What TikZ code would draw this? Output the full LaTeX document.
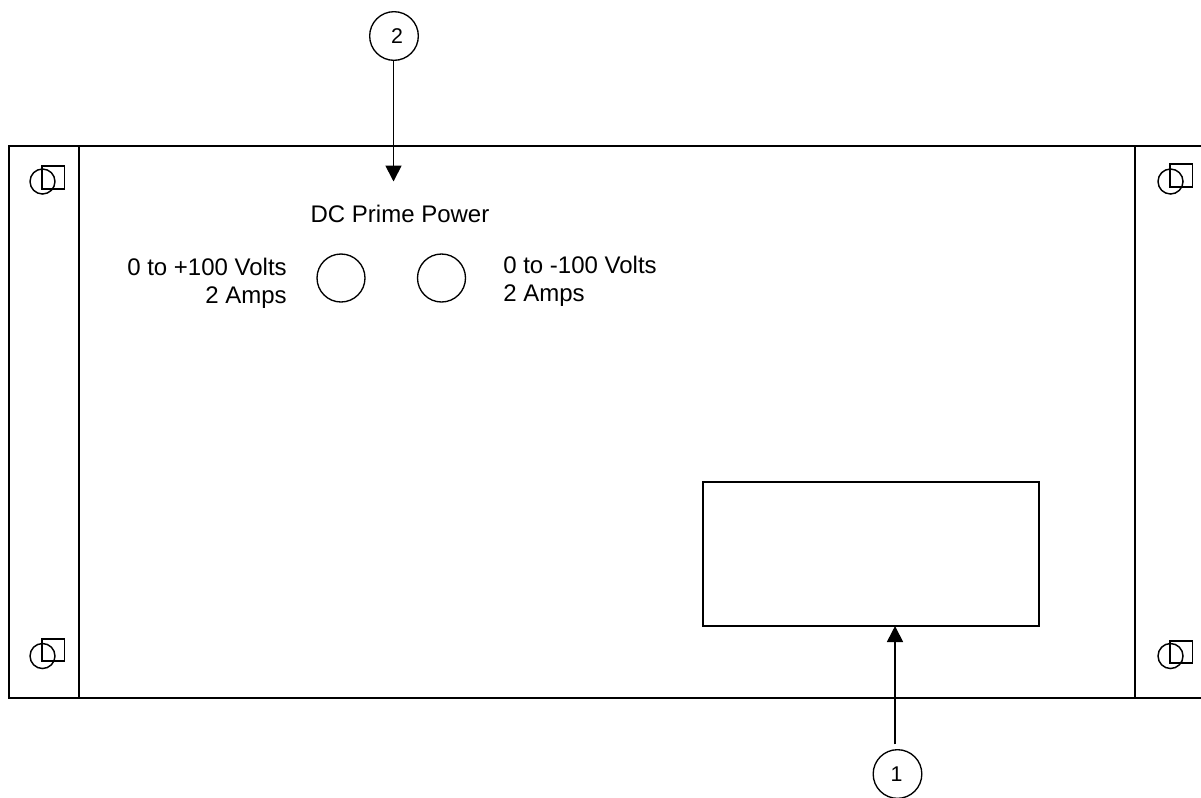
\documentclass[tikz,border=0pt]{standalone}
\usepackage{fontspec}
\setmainfont{Liberation Sans}
\usetikzlibrary{arrows.meta}
\tikzset{
  panelline/.style={line width=1.1pt},
  hardware/.style={line width=1.1pt},
  connector/.style={draw,circle,line width=1pt,minimum size=36pt,inner sep=0pt},
  badge/.style={draw,circle,line width=1pt,minimum size=36.5pt,inner sep=0pt,font=\fontsize{16}{20}\selectfont},
  pointer/.style={line width=1.3pt,-{Triangle[length=12pt,width=12pt]}},
  caption/.style={font=\fontsize{18}{20.8}\selectfont,inner sep=0pt}
}
\begin{document}
\begin{tikzpicture}[x=0.75pt,y=-0.75pt]
\useasboundingbox (0,0) rectangle (1201,797);

\draw[panelline] (1203,146) -- (9,146) -- (9,698) -- (1203,698);
\draw[panelline] (79,146) -- (79,698);
\draw[panelline] (1135,146) -- (1135,698);

\draw[hardware] (42,166) rectangle (64.5,189);
\draw[hardware] (42.5,181.5) circle (12.5);
\draw[hardware] (42,639) rectangle (64.5,661);
\draw[hardware] (42.5,656) circle (12.5);
\draw[hardware] (1170,164) rectangle (1192.5,187);
\draw[hardware] (1170.5,181.5) circle (12.5);
\draw[hardware] (1170,641) rectangle (1192.5,663);
\draw[hardware] (1170.5,656) circle (12.5);

\node[connector] (plusjack) at (341,278) {};
\node[connector] (minusjack) at (441.5,278) {};
\node[caption] (primepower) at (400,214) {DC Prime Power};
\node[caption,anchor=east,align=right] (pluslabel) at (287,283.5) {0 to +100 Volts\\2 Amps};
\node[caption,anchor=west,align=left] (minuslabel) at (503,281.5) {0 to -100 Volts\\2 Amps};

\node[draw,panelline,minimum width=252pt,minimum height=108pt,inner sep=0pt] (display) at (871,554) {};

\node[badge] (badgetwo) at (394,36) {\hspace*{4.5pt}2};
\node[badge] (badgeone) at (897.5,774) {\hspace*{-1.5pt}1};

\coordinate (primetip) at (393.5,181.5);
\coordinate (displaytip) at (895,626);
\draw[pointer] (badgetwo.south -| primetip) -- (primetip);
\draw[pointer,shorten <=3.5pt] (badgeone.north -| displaytip) -- (displaytip);

\end{tikzpicture}
\end{document}
